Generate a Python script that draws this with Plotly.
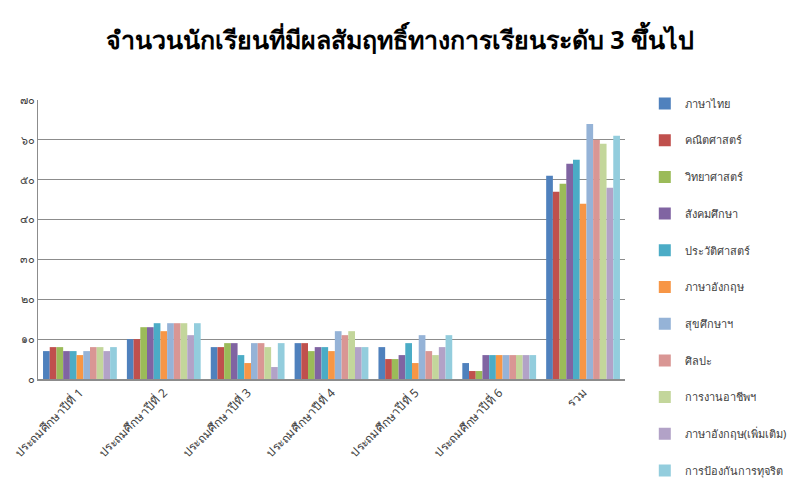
import plotly.graph_objects as go

categories = ["ประถมศึกษาปีที่ 1", "ประถมศึกษาปีที่ 2", "ประถมศึกษาปีที่ 3",
              "ประถมศึกษาปีที่ 4", "ประถมศึกษาปีที่ 5", "ประถมศึกษาปีที่ 6", "รวม"]

subjects = ["ภาษาไทย", "คณิตศาสตร์", "วิทยาศาสตร์", "สังคมศึกษา", "ประวัติศาสตร์",
            "ภาษาอังกฤษ", "สุขศึกษาฯ", "ศิลปะ", "การงานอาชีพฯ",
            "ภาษาอังกฤษ(เพิ่มเติม)", "การป้องกันการทุจริต"]

thai_lang = [7, 10, 8, 9, 8, 4, 51]
math = [8, 10, 8, 9, 5, 2, 47]
science = [8, 13, 9, 7, 5, 2, 49]
social = [7, 13, 9, 8, 6, 6, 54]
history = [7, 14, 6, 8, 9, 6, 55]
english = [6, 12, 4, 7, 4, 6, 44]
health = [7, 14, 9, 12, 11, 6, 64]
arts = [8, 14, 9, 11, 7, 6, 60]
career = [8, 14, 8, 12, 6, 6, 59]
english_extra = [7, 11, 3, 8, 8, 6, 48]
anti_corruption = [8, 14, 9, 8, 11, 6, 61]

series = [thai_lang, math, science, social, history, english, health, arts,
          career, english_extra, anti_corruption]

colors = ["#4F81BD", "#C0504D", "#9BBB59", "#8064A2", "#4BACC6", "#F79646",
          "#95B3D7", "#D99694", "#C3D69B", "#B2A2C7", "#93CDDD"]

tick_vals = [0, 10, 20, 30, 40, 50, 60, 70]
tick_text = ["๐", "๑๐", "๒๐", "๓๐", "๔๐", "๕๐", "๖๐", "๗๐"]

fig = go.Figure()
for name, vals, col in zip(subjects, series, colors):
    fig.add_trace(go.Bar(x=categories, y=vals, name=name, legendgroup=name,
                         marker=dict(color=col, line=dict(width=0))))

fig.update_layout(
    width=800, height=500,
    paper_bgcolor="white", plot_bgcolor="white",
    font=dict(family="Tahoma, Noto Sans, sans-serif", size=11, color="#404040"),
    title=dict(text="<b>จำนวนนักเรียนที่มีผลสัมฤทธิ์ทางการเรียนระดับ 3 ขึ้นไป</b>",
               x=0.5, xanchor="center", y=0.92, yanchor="middle",
               font=dict(size=25, color="#000000")),
    barmode="group", bargap=0.12, bargroupgap=0,
    margin=dict(l=38, r=175, t=100, b=121, autoexpand=False),
    legend=dict(xref="container", yref="container", x=0.806, y=0.822,
                xanchor="left", yanchor="top", maxheight=500,
                tracegroupgap=17.7, font=dict(size=11, color="#404040"),
                itemwidth=30, bgcolor="rgba(0,0,0,0)"),
    showlegend=True,
)
fig.update_xaxes(tickangle=-45, showline=True, linecolor="#8C8C8C", linewidth=2,
                 tickfont=dict(size=12, color="#404040"), ticks="")
fig.update_yaxes(range=[0, 70], tickvals=tick_vals, ticktext=tick_text,
                 showgrid=True, gridcolor="#8C8C8C", gridwidth=1,
                 showline=True, linecolor="#8C8C8C", linewidth=1,
                 tickfont=dict(size=11, color="#404040"), zeroline=False)

fig.write_html("out.html", config={"displayModeBar": False},
               post_script="document.body.style.margin='0';")
